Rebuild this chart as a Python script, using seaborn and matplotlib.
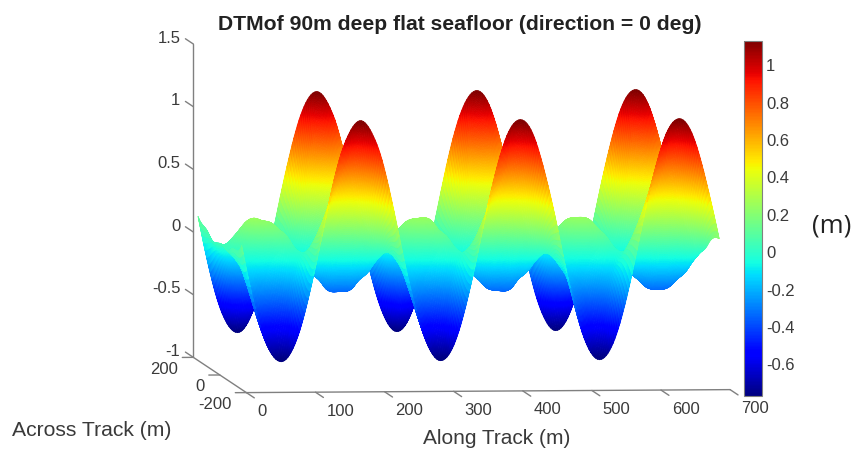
'''DTM of flat seafloor, surface plot with jet colours'''
import matplotlib
matplotlib.use('Agg')
import matplotlib.pyplot as plt
import matplotlib.cm as cm
import matplotlib.colors as mcolors
import matplotlib.tri as mtri
import numpy as np
import seaborn as sns
from mpl_toolkits.mplot3d import proj3d

sns.set_theme(style='white')
plt.rcParams['font.family'] = ['Liberation Sans', 'DejaVu Sans']

# values
along_track = [0, 10, 33, 56, 80, 103, 126, 149, 172, 195, 218, 241, 265, 288, 311, 334,
               357, 380, 403, 426, 449, 472, 495, 518, 541, 564, 587, 610, 633, 656, 679, 691]
across_track = [-165, -82, 0, 82, 165]
z_edge = [0.15, -0.12, -0.60, -0.78, -0.60, -0.12, 0.48, 0.96, 1.14, 0.96, 0.48, -0.12, -0.60, -0.78, -0.60, -0.12,
          0.48, 0.96, 1.14, 0.96, 0.48, -0.12, -0.60, -0.78, -0.60, -0.12, 0.48, 0.96, 1.14, 0.96, 0.48, 0.18]
z_quarter = [0.06, -0.04, -0.21, -0.27, -0.21, -0.04, 0.17, 0.34, 0.40, 0.34, 0.17, -0.04, -0.21, -0.27, -0.21, -0.04,
             0.17, 0.34, 0.40, 0.34, 0.17, -0.04, -0.21, -0.27, -0.21, -0.04, 0.17, 0.34, 0.40, 0.34, 0.17, 0.08]
z_mid = [0.05, 0.04, 0.185, 0.24, 0.185, 0.04, -0.14, -0.285, -0.34, -0.285, -0.14, 0.04, 0.185, 0.24, 0.185, 0.04,
         -0.14, -0.285, -0.34, -0.285, -0.14, 0.04, 0.185, 0.24, 0.185, 0.04, -0.14, -0.285, -0.34, -0.285, -0.14, -0.03]
x_ticks = [0, 100, 200, 300, 400, 500, 600, 700]
y_ticks = [-200, 0, 200]
z_ticks = [-1, -0.5, 0, 0.5, 1, 1.5]
z_tick_labels = ['-1', '-0.5', '0', '0.5', '1', '1.5']
cbar_ticks = [-0.6, -0.4, -0.2, 0, 0.2, 0.4, 0.6, 0.8, 1]
cbar_labels = ['-0.6', '-0.4', '-0.2', '0', '0.2', '0.4', '0.6', '0.8', '1']
z_min, z_max = -0.77, 1.13

jet = plt.get_cmap('jet')
grey = '#808080'
txt = '#3a3a3a'

fig = plt.figure(figsize=(8.54, 4.49), dpi=100)
ax = fig.add_axes([0.0595, -0.398, 0.937, 1.782], projection='3d', proj_type='ortho', computed_zorder=False)
ax.view_init(elev=3.67, azim=-95.5)
ax.set_xlim(0, 700)
ax.set_ylim(-200, 200)
ax.set_zlim(-1, 1.5)
ax.set_box_aspect((486, 553, 314), zoom=0.971)
ax.set_axis_off()


def label3d(x, y, z, text, dx, dy, ha):
    # tick label placed some pixels away from its point on the axis
    a, b, _ = proj3d.proj_transform(x, y, z, ax.get_proj())
    ax.annotate(text, xy=(a, b), xytext=(dx, dy), textcoords='offset pixels', ha=ha, va='center',
                fontsize=12, color=txt, annotation_clip=False)


# axes box lines
ax.plot([0, 700], [-200, -200], [-1, -1], color=grey, lw=1, zorder=1)
ax.plot([0, 0], [-200, 200], [-1, -1], color=grey, lw=1, zorder=1)
ax.plot([0, 0], [200, 200], [-1, 1.5], color=grey, lw=1, zorder=1)
for x in x_ticks:
    ax.plot([x, x], [-200, -260], [-1, -1], color=grey, lw=1, zorder=1)
    label3d(x, -200, -1, str(x), 11, -19, 'left')
for y in y_ticks:
    ax.plot([0, -16], [y, y], [-1, -1], color=grey, lw=1, zorder=1)
    label3d(0, y, -1, str(y), -15, -12, 'right')
for z, lab in zip(z_ticks, z_tick_labels):
    ax.plot([0, 0], [200, 260], [z, z], color=grey, lw=1, zorder=1)
    label3d(0, 200, z, lab, -13, 6, 'right')

# surface, the read rows only get resampled on a fine mesh so the colours shade smoothly
rows = np.array([z_edge, z_quarter, z_mid, z_quarter, z_edge])
X, Y = np.meshgrid(along_track, across_track)
tri = mtri.Triangulation(X.ravel(), Y.ravel())
interp = mtri.CubicTriInterpolator(tri, rows.ravel(), kind='min_E')
Xf, Yf = np.meshgrid(np.linspace(0, 691, 280), np.linspace(-165, 165, 240))
Zf = interp(Xf, Yf).filled(np.nan)
surf = ax.plot_surface(Xf, Yf, Zf, rstride=1, cstride=1, cmap=jet, vmin=z_min, vmax=z_max, linewidth=0.5,
                       antialiased=True, shade=False, zorder=2)
surf.set_edgecolor('face')

# colour bar
cax = fig.add_axes([744 / 854, 53 / 449, 18 / 854, 355 / 449])
sm = cm.ScalarMappable(norm=mcolors.Normalize(z_min, z_max), cmap=jet)
cb = fig.colorbar(sm, cax=cax)
cb.set_ticks(cbar_ticks, labels=cbar_labels)
cb.outline.set_edgecolor(grey)
cb.outline.set_linewidth(0.8)
cax.tick_params(axis='y', direction='in', length=3, width=0.7, left=True, right=True, color='#333333',
                labelsize=12, labelcolor=txt, pad=3)

fig.text(460 / 854, 1 - 24 / 449, 'DTMof 90m deep flat seafloor (direction = 0 deg)', ha='center', va='center',
         fontsize=15.2, fontweight='bold', color='#222222')
fig.text(497 / 854, 1 - 438 / 449, 'Along Track (m)', ha='center', va='center', fontsize=15, color=txt)
fig.text(92 / 854, 1 - 430 / 449, 'Across Track (m)', ha='center', va='center', fontsize=15.2, color=txt)
fig.text(832 / 854, 1 - 226 / 449, '(m)', ha='center', va='center', fontsize=18.5, color='#222222',
         family=['Open Sans', 'DejaVu Sans'])

fig.savefig('out.png', dpi=100)
